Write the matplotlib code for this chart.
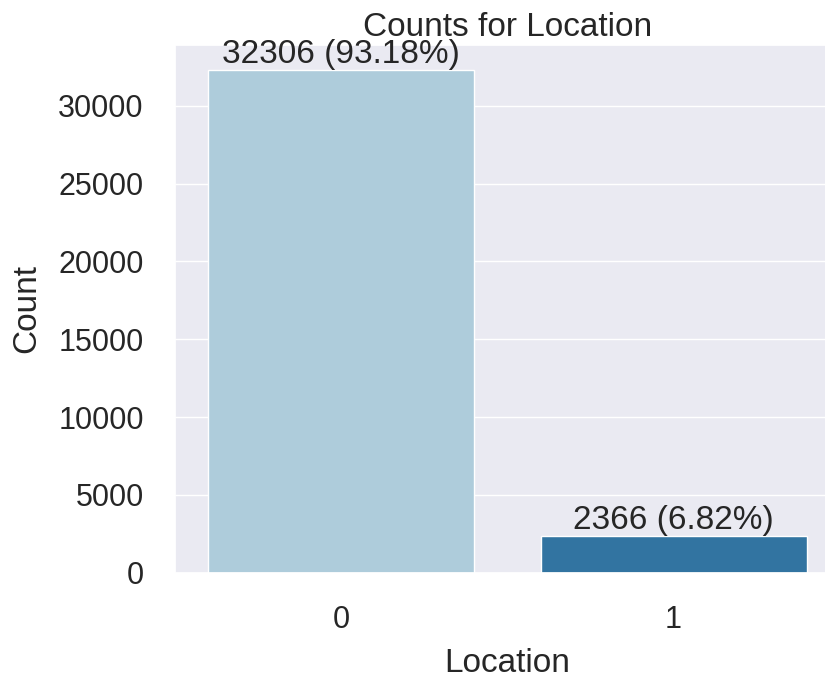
import numpy as np
import matplotlib
matplotlib.use("Agg")
import matplotlib.pyplot as plt
import seaborn as sns

categories = ["0", "1"]
counts = [32306, 2366]
percents = [93.18, 6.82]

sns.set_theme(style="darkgrid", font_scale=2)
plt.rcParams['font.family'] = ['Arial', 'Liberation Sans', 'DejaVu Sans']

fig = plt.figure(figsize=(8.25, 6.77), dpi=100)
# the original image is cropped on the right, so the axes runs past the edge
ax = fig.add_axes([0.212, 0.154, 0.806, 0.780])

palette = sns.color_palette("Paired", 2)
sns.barplot(x=categories, y=counts, hue=categories, palette=palette,
            legend=False, ax=ax)

for i, (c, p) in enumerate(zip(counts, percents)):
    ax.annotate("%d (%.2f%%)" % (c, p), (i, c), ha='center', va='bottom',
                fontsize=24, color='#262626')

ax.set_xlim(-0.5, 1.5)
ax.set_title("Counts for Location", fontsize=24)
ax.set_xlabel("Location", fontsize=24, labelpad=9)
ax.set_ylabel("Count", fontsize=24, labelpad=11.5)
ax.tick_params(axis='x', labelsize=22, pad=17.5)
ax.tick_params(axis='y', labelsize=22, pad=16.5)

fig.savefig("out.png", dpi=100)
